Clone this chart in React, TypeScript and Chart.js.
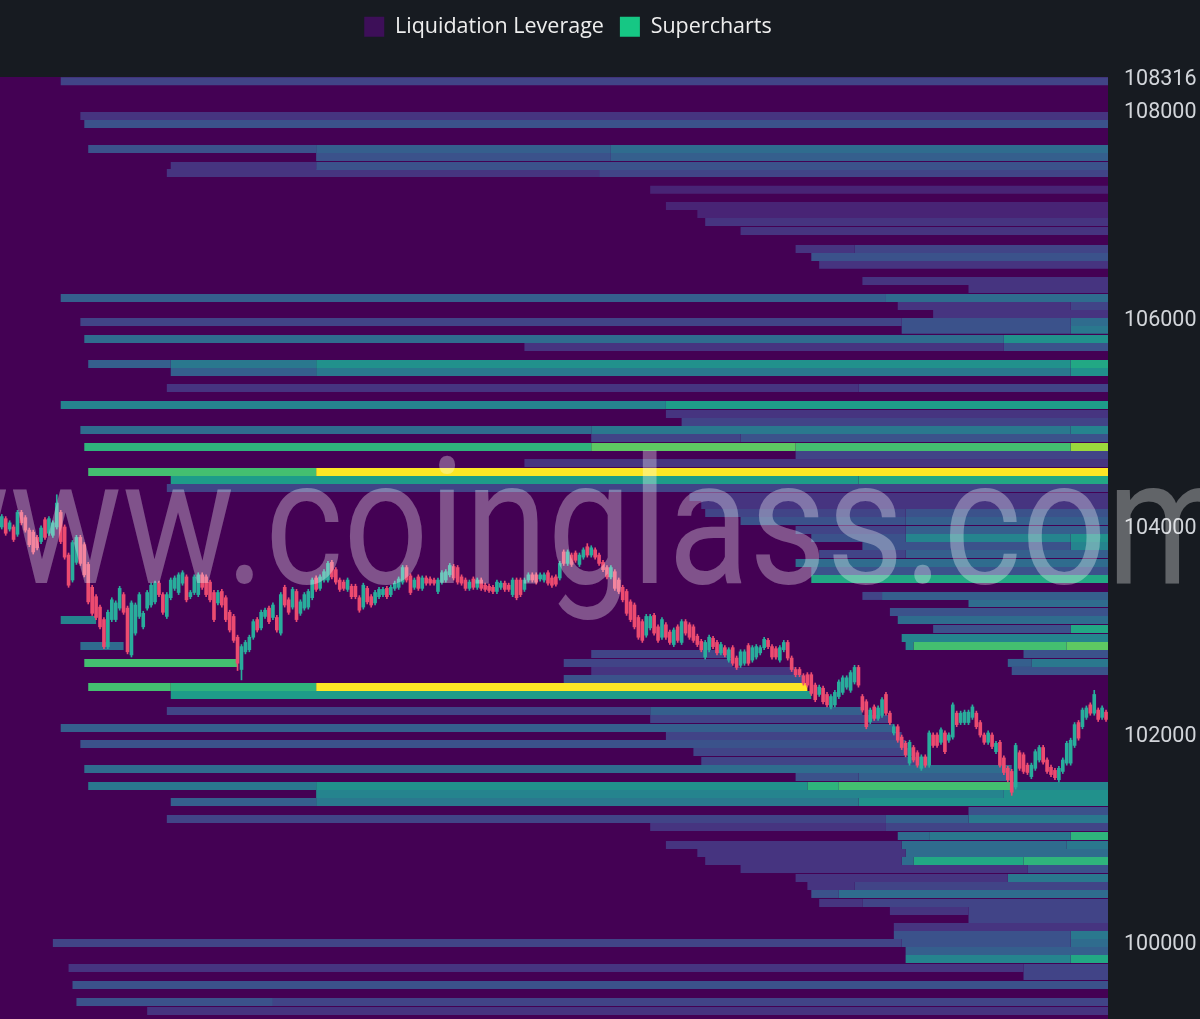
import React, { useEffect, useRef } from 'react';
import { Chart, registerables } from 'chart.js';

Chart.register(...registerables);

// ---------- axis values ----------
const Y_MIN = 99260;
const Y_MAX = 108316;
const Y_TICKS = [100000, 102000, 104000, 106000, 108000, 108316];
const X_MIN = -0.45;
const X_MAX = 281.5;
const END = 282; // latest time (right edge)

// viridis colour scale, 21 steps
const VIRIDIS = [
  '#440154', '#471365', '#482475', '#463480', '#414487', '#3b528b', '#355f8d',
  '#2f6c8e', '#2a788e', '#25848e', '#21918c', '#1e9c89', '#22a884', '#2fb47c',
  '#44bf70', '#5ec962', '#7ad151', '#9bd93c', '#bddf26', '#dfe318', '#fde725',
];

const LEGEND_ITEMS = ['Liquidation Leverage', 'Supercharts'];
const LEGEND_COLORS = ['#3d0f58', '#16c784'];
const WATERMARK = 'www.coinglass.com';

// ---------- candles (one per time step) ----------
const opens = [
  103990,104070,103970,103990,103920,104130,104080,103960,103940,103890,
  103850,104060,103930,103910,103990,104130,103990,103720,103480,103650,
  103890,103820,103630,103410,103320,103220,103100,102840,103100,103100,
  103210,103340,103210,102760,102970,103130,103030,103210,103240,103270,
  103450,103340,103130,103310,103400,103360,103450,103510,103320,103360,
  103340,103530,103510,103460,103360,103260,103370,103310,103170,103130,
  102930,102620,102790,102810,102930,103100,103020,103130,103210,103120,
  103120,102970,103410,103290,103220,103370,103160,103210,103220,103310,
  103500,103400,103480,103480,103650,103580,103480,103460,103390,103420,
  103420,103310,103220,103400,103320,103260,103320,103340,103400,103340,
  103400,103410,103460,103600,103520,103410,103510,103400,103500,103490,
  103480,103370,103460,103480,103530,103610,103600,103510,103480,103400,
  103490,103410,103480,103430,103420,103410,103370,103410,103450,103430,
  103340,103480,103480,103390,103480,103530,103530,103490,103480,103550,
  103500,103510,103500,103750,103640,103720,103740,103630,103700,103800,
  103720,103770,103720,103650,103600,103510,103560,103480,103410,103370,
  103270,103240,103120,103080,102950,103020,103140,103030,102930,103050,
  102980,102860,103030,102880,103080,103050,103030,102940,102890,102740,
  102810,102920,102880,102780,102830,102710,102830,102730,102660,102680,
  102850,102710,102740,102780,102830,102900,102840,102820,102710,102810,
  102880,102730,102620,102620,102560,102570,102570,102470,102380,102440,
  102380,102260,102280,102360,102400,102450,102420,102500,102640,102360,
  102310,102120,102260,102150,102180,102380,102200,102010,102070,101970,
  101910,101720,101870,101820,101670,101780,101700,101990,101990,101920,
  102010,101940,101970,102200,102110,102110,102110,102160,102200,102110,
  101990,101920,101990,101830,101920,101770,101670,101640,101490,101820,
  101800,101700,101590,101670,101750,101870,101750,101680,101650,101560,
  101640,101720,101720,101890,102110,102070,102160,102280,102200,102230,102160,102210,
];
const closes = [
  104090,103930,104030,103870,104130,104030,103960,103820,103750,103790,
  103980,103890,104070,104030,104220,103850,103700,103430,103840,103890,
  103640,103530,103270,103160,103120,103030,102840,103170,103290,103260,
  103400,103170,102790,103260,103240,103340,103160,103360,103430,103450,
  103340,103170,103340,103480,103500,103530,103550,103290,103360,103510,
  103530,103410,103340,103290,103100,103360,103240,103100,103000,102900,
  102680,102840,102880,102930,103080,103000,103170,103190,103080,103240,
  103000,103340,103240,103170,103390,103100,103270,103340,103370,103480,
  103390,103510,103560,103640,103510,103460,103390,103400,103480,103320,
  103320,103190,103430,103270,103240,103360,103390,103390,103320,103410,
  103450,103490,103600,103480,103360,103480,103400,103500,103450,103450,
  103450,103480,103550,103560,103620,103500,103460,103450,103400,103460,
  103410,103480,103400,103390,103380,103370,103460,103450,103390,103390,
  103480,103310,103340,103480,103530,103480,103460,103530,103530,103450,
  103430,103440,103640,103640,103750,103630,103670,103720,103770,103720,
  103790,103700,103640,103580,103510,103600,103400,103370,103290,103160,
  103100,103030,102930,102900,103130,103130,102970,102900,103100,102930,
  102880,103000,102900,103080,102970,102930,102900,102860,102810,102880,
  102930,102840,102780,102860,102760,102810,102680,102640,102790,102790,
  102680,102830,102840,102830,102910,102840,102740,102740,102830,102880,
  102730,102620,102570,102570,102490,102470,102390,102330,102450,102310,
  102280,102360,102400,102500,102540,102540,102590,102640,102470,102230,
  102070,102230,102150,102250,102330,102200,102110,102070,101940,101870,
  101800,101920,101750,101700,101780,101700,102010,101890,101890,102040,
  101830,101990,102280,102090,102200,102210,102210,102260,102070,101990,
  101920,102010,101880,101910,101700,101630,101560,101440,101890,101670,
  101640,101630,101700,101830,101870,101730,101640,101610,101580,101670,
  101750,101910,101940,102090,101960,102230,102250,102200,102380,102140,102250,102140,
];
const highs = [
  104110,104090,104050,104010,104150,104150,104100,103980,103960,103910,
  104000,104080,104090,104050,104300,104150,104010,103740,103860,103910,
  103910,103840,103650,103430,103340,103240,103120,103190,103310,103280,
  103420,103360,103230,103280,103260,103360,103180,103380,103450,103470,
  103470,103360,103360,103500,103520,103550,103570,103530,103380,103530,
  103550,103550,103530,103480,103380,103380,103390,103330,103190,103150,
  102950,102860,102900,102950,103100,103120,103190,103210,103230,103260,
  103140,103360,103430,103310,103410,103390,103290,103360,103390,103500,
  103520,103530,103580,103660,103670,103600,103500,103480,103500,103440,
  103440,103330,103450,103420,103340,103380,103410,103410,103420,103430,
  103470,103510,103620,103620,103540,103500,103530,103520,103520,103510,
  103500,103500,103570,103580,103640,103630,103620,103530,103500,103480,
  103510,103500,103500,103450,103440,103430,103480,103470,103470,103450,
  103500,103500,103500,103500,103550,103550,103550,103550,103550,103570,
  103520,103530,103660,103770,103770,103740,103760,103740,103790,103830,
  103810,103790,103740,103670,103620,103620,103580,103500,103430,103390,
  103290,103260,103140,103100,103150,103150,103160,103050,103120,103070,
  103000,103020,103050,103100,103100,103070,103050,102960,102910,102900,
  102950,102940,102900,102880,102850,102830,102850,102750,102810,102810,
  102870,102850,102860,102850,102930,102920,102860,102840,102850,102900,
  102900,102750,102640,102640,102580,102590,102590,102490,102470,102460,
  102400,102380,102420,102520,102560,102560,102610,102660,102660,102380,
  102330,102250,102280,102270,102350,102400,102220,102090,102090,101990,
  101930,101940,101890,101840,101800,101800,102030,102010,102010,102060,
  102030,102010,102300,102220,102220,102230,102230,102280,102220,102130,
  102010,102030,102010,101930,101940,101790,101690,101660,101910,101840,
  101820,101720,101720,101850,101890,101890,101770,101700,101670,101690,
  101770,101930,101960,102110,102130,102250,102270,102300,102420,102250,102270,102230,
];
const lows = [
  103970,103910,103950,103850,103900,104010,103940,103800,103730,103770,
  103830,103870,103910,103890,103970,103830,103680,103410,103460,103630,
  103620,103510,103250,103140,103100,103010,102820,102820,103080,103080,
  103190,103150,102770,102740,102950,103110,103010,103190,103220,103250,
  103320,103150,103110,103290,103380,103340,103430,103270,103300,103340,
  103320,103390,103320,103270,103080,103240,103220,103080,102980,102880,
  102610,102520,102770,102790,102910,102980,103000,103110,103060,103100,
  102980,102950,103220,103150,103200,103080,103140,103190,103200,103290,
  103370,103380,103460,103460,103490,103440,103370,103380,103370,103300,
  103300,103170,103200,103250,103220,103240,103300,103320,103300,103320,
  103380,103390,103440,103460,103340,103390,103380,103380,103430,103430,
  103430,103350,103440,103460,103510,103480,103440,103430,103380,103380,
  103390,103390,103380,103370,103360,103350,103350,103390,103370,103370,
  103320,103290,103320,103370,103460,103460,103440,103470,103460,103430,
  103410,103420,103480,103620,103620,103610,103650,103610,103680,103700,
  103700,103680,103620,103560,103490,103490,103380,103350,103270,103140,
  103080,103010,102910,102880,102930,103000,102950,102880,102910,102910,
  102860,102840,102880,102860,102950,102910,102880,102840,102790,102720,
  102790,102820,102760,102760,102740,102690,102660,102620,102640,102660,
  102660,102690,102720,102760,102810,102820,102720,102720,102690,102790,
  102710,102600,102550,102550,102470,102450,102370,102310,102360,102290,
  102260,102240,102260,102340,102380,102430,102400,102480,102450,102210,
  102050,102100,102130,102130,102160,102180,102090,101990,101920,101850,
  101780,101700,101730,101680,101650,101680,101680,101870,101870,101900,
  101810,101920,101950,102070,102090,102090,102090,102140,102050,101970,
  101900,101900,101860,101810,101680,101610,101540,101410,101470,101650,
  101620,101610,101570,101650,101730,101710,101620,101590,101560,101540,
  101620,101700,101700,101870,101940,102050,102140,102180,102180,102120,102140,102120,
];

// ---------- liquidation heatmap: price rows and [start, end, intensity level] runs ----------
const heatPrices = [
  108274, 107942, 107865, 107625, 107548, 107461, 107394, 107231, 107077, 107000,
  106923, 106836, 106663, 106586, 106510, 106356, 106279, 106192, 106115, 106038,
  105961, 105885, 105798, 105721, 105558, 105481, 105327, 105163, 105077, 105000,
  104923, 104846, 104760, 104683, 104606, 104519, 104442, 104365, 104279, 104202,
  104125, 104048, 103962, 103885, 103808, 103731, 103644, 103567, 103490, 103327,
  103260, 103173, 103096, 103010, 102923, 102846, 102769, 102683, 102606, 102529,
  102452, 102375, 102221, 102144, 102058, 101981, 101904, 101827, 101740, 101664,
  101587, 101500, 101423, 101346, 101260, 101183, 101106, 101019, 100933, 100856,
  100779, 100702, 100616, 100539, 100462, 100375, 100298, 100221, 100144, 100067,
  99991, 99914, 99837, 99750, 99673, 99587, 99423, 99337,
];
const heatSegments: number[][][] = [
  [[15, END, 4]],
  [[20, END, 3]],
  [[21, END, 5]],
  [[22, 80, 5], [80, 155, 6], [155, END, 7]],
  [[80, 155, 5], [155, END, 6]],
  [[43, 80, 3], [80, END, 5]],
  [[42, 152, 3], [152, END, 4]],
  [[165, END, 2]],
  [[169, END, 2]],
  [[177, END, 2]],
  [[179, END, 3]],
  [[188, END, 3]],
  [[202, 217, 3], [217, END, 4]],
  [[206, END, 5]],
  [[208, END, 3]],
  [[219, END, 3]],
  [[246, END, 3]],
  [[15, 225, 6], [225, END, 7]],
  [[228, 272, 3], [272, END, 4]],
  [[237, END, 3]],
  [[20, 229, 4], [229, 272, 5], [272, END, 7]],
  [[229, 272, 5], [272, END, 8]],
  [[21, 255, 7], [255, END, 10]],
  [[133, 255, 3], [255, END, 5]],
  [[22, 43, 6], [43, 80, 8], [80, 272, 10], [272, END, 12]],
  [[43, 80, 6], [80, 272, 8], [272, END, 10]],
  [[42, 218, 3], [218, END, 4]],
  [[15, 169, 9], [169, END, 11]],
  [[169, END, 3]],
  [[173, END, 4]],
  [[20, 150, 7], [150, 272, 8], [272, END, 9]],
  [[150, 188, 4], [188, END, 5]],
  [[21, 150, 13], [150, 202, 15], [202, 272, 14], [272, END, 17]],
  [[202, END, 4]],
  [[133, END, 3]],
  [[22, 80, 14], [80, END, 20]],
  [[43, 218, 11], [218, END, 12]],
  [[42, END, 4]],
  [[175, END, 3]],
  [[178, END, 3]],
  [[179, 230, 4], [230, END, 5]],
  [[188, 230, 5], [230, END, 6]],
  [[202, 230, 4], [230, END, 6]],
  [[206, 230, 5], [230, 272, 9], [272, END, 10]],
  [[219, 272, 5], [272, END, 9]],
  [[208, 230, 4], [230, END, 6]],
  [[202, END, 7]],
  [[206, END, 5]],
  [[206, END, 12]],
  [[219, 224, 4], [224, END, 6]],
  [[246, END, 7]],
  [[226, END, 5]],
  [[15, 24, 9], [228, END, 7]],
  [[237, 272, 5], [272, END, 12]],
  [[229, END, 9]],
  [[20, 31, 7], [230, 232, 9], [232, 271, 14], [271, END, 15]],
  [[150, 186, 4], [260, END, 5]],
  [[21, 60, 14], [143, 186, 4], [256, 262, 6], [262, END, 8]],
  [[150, 202, 3], [257, END, 5]],
  [[143, 204, 5]],
  [[22, 43, 14], [43, 80, 13], [80, 205, 20]],
  [[43, 206, 11]],
  [[42, 165, 4], [165, 219, 6]],
  [[165, 226, 4]],
  [[15, 227, 6]],
  [[169, 229, 4]],
  [[20, 230, 5]],
  [[176, 232, 4]],
  [[178, 236, 4]],
  [[21, 257, 7]],
  [[202, 218, 5], [218, 257, 6]],
  [[22, 80, 8], [80, 205, 10], [205, 213, 13], [213, 257, 14], [257, END, 9]],
  [[80, 255, 9], [255, END, 10]],
  [[43, 80, 6], [80, 218, 8], [218, END, 10]],
  [[246, END, 5]],
  [[42, 225, 4], [225, 246, 6], [246, END, 8]],
  [[165, 225, 3], [225, END, 4]],
  [[228, 236, 7], [236, 272, 8], [272, END, 13]],
  [[169, 229, 3], [229, 271, 7], [271, END, 8]],
  [[177, 230, 3], [230, END, 7]],
  [[179, 229, 3], [229, 232, 7], [232, 260, 12], [260, END, 13]],
  [[188, 261, 3], [261, END, 5]],
  [[202, 256, 3], [256, END, 8]],
  [[205, 217, 3], [217, END, 4]],
  [[206, 213, 5], [213, END, 7]],
  [[208, 219, 3], [219, END, 4]],
  [[226, 246, 3], [246, END, 4]],
  [[246, END, 4]],
  [[227, END, 3]],
  [[227, 272, 5], [272, END, 8]],
  [[13, 229, 4], [229, 272, 5], [272, END, 7]],
  [[230, END, 6]],
  [[230, 272, 9], [272, END, 12]],
  [[17, 260, 3], [260, END, 4]],
  [[260, END, 4]],
  [[18, END, 5]],
  [[19, 69, 5], [69, END, 4]],
  [[37, END, 3]],
];

const UP = '#29ad9c';
const DOWN = '#ec4b70';

const framePlugin = {
  id: 'frame',
  afterLayout(chart: any) {
    // nudge the legend group to sit where the original places it
    const l = chart.legend;
    if (l) {
      l.left += 14;
      l.right += 14;
    }
  },
  beforeDraw(chart: any) {
    const { ctx, chartArea, width, height } = chart;
    ctx.save();
    ctx.fillStyle = '#171b21';
    ctx.fillRect(0, 0, width, height);
    ctx.fillStyle = VIRIDIS[0];
    ctx.fillRect(chartArea.left, chartArea.top, chartArea.right - chartArea.left, chartArea.bottom - chartArea.top);
    ctx.restore();
  },
  afterDraw(chart: any) {
    const { ctx, chartArea } = chart;
    ctx.save();
    ctx.font = '400 176px Roboto';
    ctx.fillStyle = 'rgba(255,255,255,0.32)';
    ctx.textBaseline = 'alphabetic';
    ctx.textAlign = 'left';
    const pre = ctx.measureText('www.').width;
    ctx.translate(chartArea.left + 265, chartArea.top + 506);
    ctx.scale(0.85, 1);
    ctx.fillText(WATERMARK, -pre, 0);
    ctx.restore();
  },
};

export default function App() {
  const ref = useRef<HTMLCanvasElement | null>(null);

  useEffect(() => {
    if (!ref.current) return;

    const heatDatasets: any[] = [];
    heatPrices.forEach((p, r) => {
      heatSegments[r].forEach(([s, e, lv]) => {
        heatDatasets.push({
          type: 'line',
          data: [{ x: s, y: p }, { x: e, y: p }],
          borderColor: VIRIDIS[lv],
          backgroundColor: VIRIDIS[lv],
          borderWidth: 8,
          borderCapStyle: 'butt',
          pointRadius: 0,
          pointHoverRadius: 0,
          fill: false,
          tension: 0,
          order: 3,
          clip: 0,
        });
      });
    });

    const colors = opens.map((o, i) => (closes[i] >= o ? UP : DOWN));

    const chart = new Chart(ref.current, {
      type: 'bar',
      data: {
        datasets: [
          ...heatDatasets,
          {
            type: 'bar',
            data: opens.map((o, i) => ({ x: i, y: [lows[i], highs[i]] })),
            backgroundColor: colors,
            barThickness: 1,
            grouped: false,
            order: 2,
          },
          {
            type: 'bar',
            data: opens.map((o, i) => ({ x: i, y: [o, closes[i]] })),
            backgroundColor: colors,
            barThickness: 3,
            grouped: false,
            order: 1,
          },
        ],
      } as any,
      options: {
        responsive: false,
        animation: false,
        devicePixelRatio: 1,
        events: [],
        layout: { padding: 0 },
        scales: {
          x: {
            type: 'linear',
            min: X_MIN,
            max: X_MAX,
            display: false,
            offset: false,
            grid: { display: false },
          },
          y: {
            type: 'linear',
            position: 'right',
            min: Y_MIN,
            max: Y_MAX,
            grid: { display: false, drawTicks: false },
            border: { display: false },
            ticks: {
              color: '#d2d5da',
              font: { family: 'Roboto', size: 21.5 },
              padding: 16,
              labelOffset: 2.5,
              autoSkip: false,
              callback: (v: any) => String(v),
            },
            afterBuildTicks: (s: any) => {
              s.ticks = Y_TICKS.map((v) => ({ value: v }));
            },
            afterFit: (s: any) => {
              s.width = 92;
              s.paddingTop = 0;
              s.paddingBottom = 0;
            },
          },
        },
        plugins: {
          tooltip: { enabled: false },
          legend: {
            display: true,
            position: 'top',
            fullSize: false,
            labels: {
              boxWidth: 20,
              boxHeight: 20,
              padding: 16,
              color: '#eeeeee',
              font: { family: '"Open Sans"', size: 21.5 },
              generateLabels: () =>
                LEGEND_ITEMS.map((t, i) => ({
                  text: t,
                  fillStyle: LEGEND_COLORS[i],
                  strokeStyle: LEGEND_COLORS[i],
                  lineWidth: 0,
                  hidden: false,
                  fontColor: '#eeeeee',
                })),
            },
          },
          title: {
            display: true,
            text: ' ',
            position: 'top',
            weight: 500,
            padding: { top: 28.5, bottom: 0 },
            font: { size: 1, lineHeight: 1 },
          },
        },
      } as any,
      plugins: [framePlugin],
    });

    return () => chart.destroy();
  }, []);

  return (
    <div style={{ position: 'absolute', left: 0, top: 0, width: 1200, height: 1019, background: '#171b21' }}>
      <canvas ref={ref} width={1200} height={1019} style={{ display: 'block', width: 1200, height: 1019 }} />
    </div>
  );
}
